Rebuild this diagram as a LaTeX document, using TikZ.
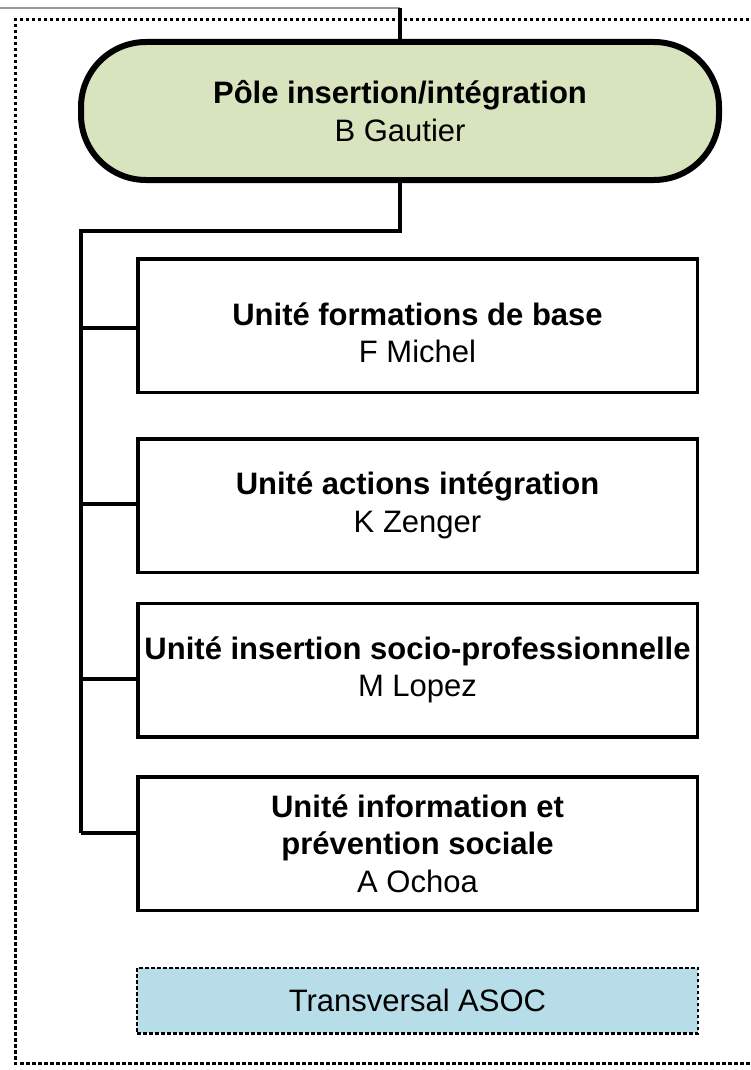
\documentclass[tikz,border=0pt]{standalone}
\usepackage{fontspec}
\setmainfont{Liberation Sans}
\definecolor{polegreen}{RGB}{215,228,189}
\definecolor{asocblue}{RGB}{183,221,232}
\begin{document}
\begin{tikzpicture}[x=1pt,y=-1pt,
        every node/.style={font=\fontsize{31}{37.5}\selectfont, align=center, inner sep=0pt},
        pole/.style={draw, line width=6pt, fill=polegreen, rounded corners=65pt,
            minimum width=638pt, minimum height=138pt},
        unit/.style={draw, line width=3.5pt, minimum width=559.5pt, minimum height=133.5pt},
        asoc/.style={draw, line width=2.5pt, dash pattern=on 3.5pt off 2.5pt, fill=asocblue,
            minimum width=561pt, minimum height=65.5pt},
        link/.style={line width=3.5pt}]
    \useasboundingbox (0,0) rectangle (751,1070);

    \draw[line width=3pt, dash pattern=on 3.5pt off 2.5pt] (755,20) -| (15,1063) -- (755,1063);

    \node[pole] (pole) at (400,111) {\textbf{Pôle insertion/intégration}\\ B Gautier};

    \node[unit] (u1) at (417.5,325.5) {\mbox{}\\ \textbf{Unité formations de base}\\ F Michel};
    \node[unit] (u2) at (417.5,505.5) {\textbf{Unité actions intégration}\\ K Zenger};
    \node[unit] (u3) at (417.5,670) {\textbf{Unité insertion socio-professionnelle}\\ M Lopez};
    \node[unit] (u4) at (417.5,843.5) {\textbf{Unité information et}\\ \textbf{prévention sociale}\\ A Ochoa};

    \node[asoc] (asoc) at (417.5,1000.5) {Transversal ASOC};

    \coordinate (in) at (400,8);
    \coordinate (trunk) at (81,231);
    \draw[line width=2pt, black!40] (0,8) -- (in);
    \draw[link] (in) -- (pole.north);
    \draw[link] (pole.south) |- (trunk) -- (trunk |- 0,833);
    \foreach \n/\y in {u1/328,u2/504,u3/679,u4/833}
        \draw[link] (trunk |- 0,\y) -- (\n.west |- 0,\y);
\end{tikzpicture}
\end{document}
